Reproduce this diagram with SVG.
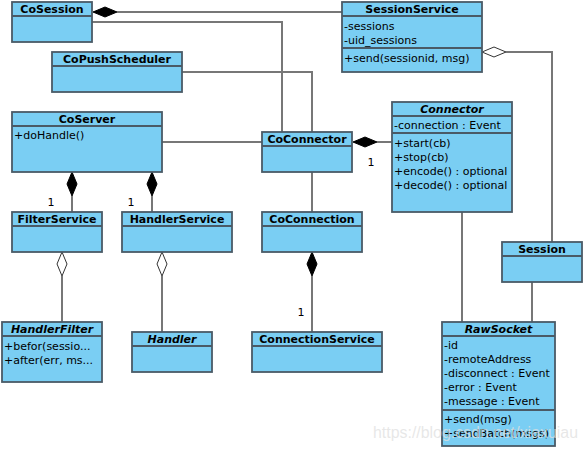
<svg xmlns="http://www.w3.org/2000/svg" width="586" height="450" viewBox="0 0 586 450">
<style>
.box{fill:#7acef3;stroke:#4a5a66;stroke-width:1.8}
.div{stroke:#4a5a66;stroke-width:1.8;fill:none}
.h{font-family:"DejaVu Sans",sans-serif;font-size:11px;font-weight:bold;fill:#000;text-anchor:middle}
.hi{font-style:italic}
.m{font-family:"DejaVu Sans",sans-serif;font-size:11px;fill:#000}
.c{stroke:#777;stroke-width:2;fill:none}
.fd{fill:#000;stroke:#000;stroke-width:1}
.od{fill:#fff;stroke:#333;stroke-width:1}
.lbl{font-family:"DejaVu Sans",sans-serif;font-size:11px;fill:#000;text-anchor:middle}
</style>
<rect width="586" height="450" fill="#fff"/>
<g id="connectors">
<polyline class="c" points="117,12 342,12"/>
<polygon class="fd" points="93,12 105,7 117,12 105,17"/>
<polyline class="c" points="92,22 282,22 282,132"/>
<polyline class="c" points="182,72 312,72 312,132"/>
<polyline class="c" points="162,142 262,142"/>
<polyline class="c" points="377,142 392,142"/>
<polygon class="fd" points="353,142 365,137 377,142 365,147"/>
<text class="lbl" x="371" y="166">1</text>
<polyline class="c" points="506,52 552,52 552,242"/>
<polygon class="od" points="482,52 494,47 506,52 494,57"/>
<polyline class="c" points="462,212 462,322"/>
<polyline class="c" points="532,282 532,322"/>
<polyline class="c" points="312,172 312,212"/>
<polyline class="c" points="312,276 312,332"/>
<polygon class="fd" points="312,252 317,264 312,276 307,264"/>
<text class="lbl" x="301" y="316">1</text>
<polyline class="c" points="72,196 72,212"/>
<polygon class="fd" points="72,172 77,184 72,196 67,184"/>
<text class="lbl" x="51" y="206">1</text>
<polyline class="c" points="152,196 152,212"/>
<polygon class="fd" points="152,172 157,184 152,196 147,184"/>
<text class="lbl" x="131" y="206">1</text>
<polyline class="c" points="62,276 62,322"/>
<polygon class="od" points="62,252 67,264 62,276 57,264"/>
<polyline class="c" points="162,276 162,332"/>
<polygon class="od" points="162,252 167,264 162,276 157,264"/>
</g>
<g id="CoSession">
<rect class="box" x="12" y="2" width="80" height="40"/>
<line class="div" x1="12" y1="16" x2="92" y2="16"/>
<text class="h" x="52" y="13">CoSession</text>
</g>
<g id="CoPushScheduler">
<rect class="box" x="52" y="52" width="130" height="40"/>
<line class="div" x1="52" y1="66" x2="182" y2="66"/>
<text class="h" x="117" y="63">CoPushScheduler</text>
</g>
<g id="CoServer">
<rect class="box" x="12" y="112" width="150" height="60"/>
<line class="div" x1="12" y1="126" x2="162" y2="126"/>
<text class="h" x="87" y="123">CoServer</text>
<text class="m" x="14" y="139">+doHandle()</text>
</g>
<g id="SessionService">
<rect class="box" x="342" y="2" width="140" height="70"/>
<line class="div" x1="342" y1="16" x2="482" y2="16"/>
<line class="div" x1="342" y1="48" x2="482" y2="48"/>
<text class="h" x="412" y="13">SessionService</text>
<text class="m" x="344" y="29.5">-sessions</text>
<text class="m" x="344" y="43.5">-uid_sessions</text>
<text class="m" x="344" y="61.5">+send(sessionid, msg)</text>
</g>
<g id="CoConnector">
<rect class="box" x="262" y="132" width="90" height="40"/>
<line class="div" x1="262" y1="146" x2="352" y2="146"/>
<text class="h" x="307" y="143">CoConnector</text>
</g>
<g id="Connector">
<rect class="box" x="392" y="102" width="120" height="110"/>
<line class="div" x1="392" y1="116" x2="512" y2="116"/>
<line class="div" x1="392" y1="133" x2="512" y2="133"/>
<text class="h hi" x="452" y="113">Connector</text>
<text class="m" x="394" y="129">-connection : Event</text>
<text class="m" x="394" y="147">+start(cb)</text>
<text class="m" x="394" y="161">+stop(cb)</text>
<text class="m" x="394" y="175">+encode() : optional</text>
<text class="m" x="394" y="189">+decode() : optional</text>
</g>
<g id="FilterService">
<rect class="box" x="12" y="212" width="90" height="40"/>
<line class="div" x1="12" y1="226" x2="102" y2="226"/>
<text class="h" x="57" y="223">FilterService</text>
</g>
<g id="HandlerService">
<rect class="box" x="122" y="212" width="110" height="40"/>
<line class="div" x1="122" y1="226" x2="232" y2="226"/>
<text class="h" x="177" y="223">HandlerService</text>
</g>
<g id="CoConnection">
<rect class="box" x="262" y="212" width="100" height="40"/>
<line class="div" x1="262" y1="226" x2="362" y2="226"/>
<text class="h" x="312" y="223">CoConnection</text>
</g>
<g id="Session">
<rect class="box" x="502" y="242" width="80" height="40"/>
<line class="div" x1="502" y1="256" x2="582" y2="256"/>
<text class="h" x="542" y="253">Session</text>
</g>
<g id="HandlerFilter">
<rect class="box" x="2" y="322" width="100" height="60"/>
<line class="div" x1="2" y1="336" x2="102" y2="336"/>
<text class="h hi" x="52" y="333">HandlerFilter</text>
<text class="m" x="4" y="350">+befor(sessio...</text>
<text class="m" x="4" y="364">+after(err, ms...</text>
</g>
<g id="Handler">
<rect class="box" x="132" y="332" width="80" height="40"/>
<line class="div" x1="132" y1="346" x2="212" y2="346"/>
<text class="h hi" x="172" y="343">Handler</text>
</g>
<g id="ConnectionService">
<rect class="box" x="252" y="332" width="130" height="40"/>
<line class="div" x1="252" y1="346" x2="382" y2="346"/>
<text class="h" x="317" y="343">ConnectionService</text>
</g>
<g id="RawSocket">
<rect class="box" x="442" y="322" width="113" height="124"/>
<line class="div" x1="442" y1="336" x2="555" y2="336"/>
<line class="div" x1="442" y1="410" x2="555" y2="410"/>
<text class="h hi" x="498.5" y="333">RawSocket</text>
<text class="m" x="444" y="349">-id</text>
<text class="m" x="444" y="363">-remoteAddress</text>
<text class="m" x="444" y="377">-disconnect : Event</text>
<text class="m" x="444" y="391">-error : Event</text>
<text class="m" x="444" y="405">-message : Event</text>
<text class="m" x="444" y="423">+send(msg)</text>
<text class="m" x="444" y="437">+sendBatch(msgs)</text>
</g>
<text x="373" y="438" font-family="Liberation Sans, Arial, sans-serif" font-size="16" fill="#e0e0e0" fill-opacity="0.75" textLength="205" lengthAdjust="spacingAndGlyphs">https://blog.csdn.net/xiaxuiau</text>
</svg>
